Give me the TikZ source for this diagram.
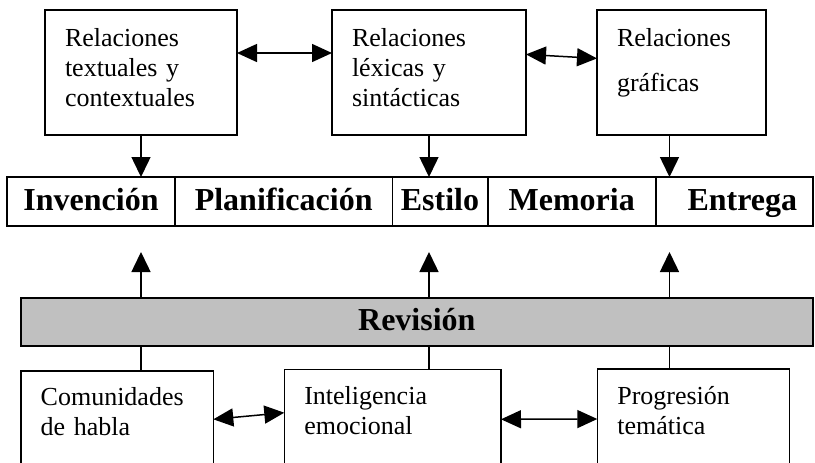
\documentclass[tikz,border=0pt]{standalone}
\usepackage{fontspec}
\setmainfont{Liberation Serif}
\usetikzlibrary{positioning, arrows.meta}
\definecolor{revgray}{HTML}{C0C0C0}

\begin{document}
\begin{tikzpicture}[
    x=0.5pt, y=-0.5pt,
    relbox/.style={draw, line width=0.8pt, outer sep=0pt, anchor=north west, inner xsep=10pt, inner ysep=0pt, align=left, font=\fontsize{13}{15}\selectfont},
    cell/.style={draw, line width=0.8pt, outer sep=0pt, inner xsep=0pt, inner ysep=4pt, text height=12.5pt, text depth=4pt, font=\fontsize{16}{18}\selectfont\bfseries},
    arr/.style={-{Triangle[length=10pt, width=9.5pt]}, line width=0.75pt},
    darr/.style={{Triangle[length=10pt, width=9pt]}-{Triangle[length=10pt, width=9pt]}, line width=0.75pt},
    link/.style={-, line width=0.75pt}
  ]
    \useasboundingbox (0,0) rectangle (815,462);

    % Relation boxes at the top
    \node[relbox, text width=76pt, text height=18pt, text depth=44.5pt] (rel1) at (45,10) {Relaciones\\textuales y\\contextuales};
    \node[relbox, text width=77pt, text height=18pt, text depth=44.5pt] (rel2) at (332,10) {Relaciones\\léxicas y\\sintácticas};
    \node[relbox, text width=64.5pt, text height=18pt, text depth=44.5pt] (rel3) at (597,10) {Relaciones\\[7.85pt]gráficas};

    % Row of the canons
    \node[cell, anchor=north west, minimum width=84pt] (inv) at (7,177) {Invención};
    \node[cell, minimum width=108.65pt, right=0pt of inv] (plan) {Planificación};
    \node[cell, minimum width=47.7pt, right=0pt of plan] (est) {Estilo};
    \node[cell, minimum width=84pt, right=0pt of est] (mem) {Memoria};
    \node[cell, minimum width=78.65pt, right=0pt of mem] (ent) {\hspace*{8pt}Entrega};

    % Revision bar
    \node[cell, fill=revgray, anchor=north west, minimum width=396.15pt, text height=12pt] (rev) at (20.7,298) {Revisión};

    % Boxes at the bottom
    \node[relbox, text width=76.3pt, text height=17.2pt, text depth=32.8pt] (com) at (20.7,370.7) {Comunidades\\de habla};
    \node[relbox, text width=88.35pt, text height=17.8pt, text depth=32.2pt] (intel) at (284.3,369.3) {Inteligencia\\emocional};
    \node[relbox, text width=76pt, text height=17.6pt, text depth=32.4pt] (prog) at (597.3,369) {Progresión\\temática};

    \coordinate (gra) at ([xshift=-6pt]rel3.south);

    % Arrows from the top boxes
    \draw[arr] (rel1.south) -- (rel1.south |- inv.north);
    \draw[arr] (rel2.south) -- (rel2.south |- est.north);
    \draw[arr] (gra) -- (gra |- ent.north);
    \draw[darr] ([yshift=-21.5pt]rel1.north east) -- ([yshift=-21.5pt]rel2.north west);
    \draw[darr] ([yshift=-22.2pt]rel2.north east) -- ([yshift=-24.2pt]rel3.north west);

    % Arrows from the revision bar
    \draw[arr, shorten >=13pt] (rel1.south |- rev.north) -- (rel1.south |- inv.south);
    \draw[arr, shorten >=13pt] (rel2.south |- rev.north) -- (rel2.south |- est.south);
    \draw[arr, shorten >=13pt] (gra |- rev.north) -- (gra |- ent.south);

    % Links to the bottom boxes
    \draw[link] (rel1.south |- com.north) -- (rel1.south |- rev.south);
    \draw[link] (rel2.south |- intel.north) -- (rel2.south |- rev.south);
    \draw[link] (gra |- prog.north) -- (gra |- rev.south);
    \draw[darr] ([yshift=-24.3pt]com.north east) -- ([yshift=-21.7pt]intel.north west);
    \draw[darr] ([yshift=-25pt]intel.north east) -- ([yshift=-25pt]prog.north west);
  \end{tikzpicture}
\end{document}
